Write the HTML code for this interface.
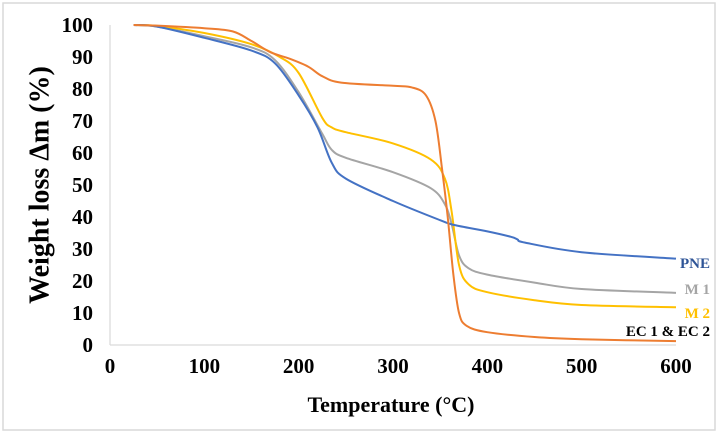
<!DOCTYPE html>
<html><head><meta charset="utf-8"><style>
html,body{margin:0;padding:0;background:#fff;}
svg{display:block;font-family:"Liberation Serif",serif;font-weight:bold;}
</style></head><body>
<svg width="718" height="433" viewBox="0 0 718 433">
<rect x="3" y="3" width="712" height="427" fill="#fff" stroke="#d9d9d9" stroke-width="1.5"/>
<g id="axes"></g>
<g id="series"></g>
<text x="42" y="185" transform="rotate(-90 42 185)" text-anchor="middle" font-size="28" fill="#000" dominant-baseline="middle">Weight loss Δm  (%)</text>
<text x="391" y="412" text-anchor="middle" font-size="22" fill="#000">Temperature (°C)</text>
</svg>
<script>
const xTicks=[0,100,200,300,400,500,600];
const yTicks=[0,10,20,30,40,50,60,70,80,90,100];
const pneT=[25,50,100,150,175,200,220,235,250,300,350,365,400,425,432,440,500,600];
const pneW=[100,99.5,96,92,88,78,68,57,52,45,39,37.5,35.5,33.8,33,32,29,27];
const m1T=[25,50,100,150,175,200,225,235,250,300,340,355,362,370,380,400,450,500,600];
const m1W=[100,99.5,96.5,93,89,79,66,61,58.5,54,49,44,38,28,24,22,19.5,17.5,16.3];
const m2T=[25,50,100,150,180,200,225,235,250,300,340,355,362,370,380,400,450,500,600];
const m2W=[100,99.7,97.5,94,90,85,71,68,66.5,63,58,52,42,25,19,16.5,14,12.5,11.8];
const ecT=[25,50,100,130,150,170,190,210,225,245,300,320,335,345,352,358,364,370,378,400,450,500,600];
const ecW=[100,99.8,99,98,95,91.5,89.5,87,84,82,81,80.5,78,70,55,40,22,10,6,4,2.5,1.8,1.2];
const seriesNames=["PNE","M 1","M 2","EC 1 & EC 2"];
const NS="http://www.w3.org/2000/svg";
const X=t=>110+t*(566/600);
const Y=w=>345-w*3.2;
const ax=document.getElementById('axes'),sg=document.getElementById('series');
function mk(tag,attrs,parent){const e=document.createElementNS(NS,tag);for(const k in attrs)e.setAttribute(k,attrs[k]);parent.appendChild(e);return e;}
let yl=mk('line',{x1:X(0),y1:Y(0),x2:X(0),y2:Y(100),stroke:'#d9d9d9','stroke-width':1.2},ax);


let xl=mk('line',{x1:X(0),y1:Y(0),x2:X(600),y2:Y(0),stroke:'#d9d9d9','stroke-width':1.2},ax);


xTicks.forEach(t=>{const e=mk('text',{x:X(t),y:373,'text-anchor':'middle','font-size':21,fill:'#000'},ax);e.textContent=t;

});
yTicks.forEach(t=>{const e=mk('text',{x:93,y:Y(t)+7,'text-anchor':'end','font-size':21,fill:'#000'},ax);e.textContent=t;

});
function path(T,W){const p=T.map((t,i)=>[X(t),Y(W[i])]);let d='M'+p[0][0]+','+p[0][1];
for(let i=0;i<p.length-1;i++){const p0=p[i-1]||p[i],p1=p[i],p2=p[i+1],p3=p[i+2]||p2;
const c1=[p1[0]+(p2[0]-p0[0])/6,p1[1]+(p2[1]-p0[1])/6],c2=[p2[0]-(p3[0]-p1[0])/6,p2[1]-(p3[1]-p1[1])/6];
d+=' C'+c1+' '+c2+' '+p2;}return d;}
const defs=[[m1T,m1W,'#a5a5a5','m1'],[m2T,m2W,'#ffc000','m2'],[pneT,pneW,'#4472c4','pne'],[ecT,ecW,'#ed7d31','ec']];
defs.forEach(s=>{const e=mk('path',{d:path(s[0],s[1]),fill:'none',stroke:s[2],'stroke-width':2},sg);

});
const labs=[[seriesNames[0],710,268,'#2f5597'],[seriesNames[1],710,294,'#a5a5a5'],[seriesNames[2],710,318,'#ffc000'],[seriesNames[3],710,336,'#000']];
labs.forEach((l,i)=>{const e=mk('text',{x:l[1],y:l[2],'text-anchor':'end','font-size':15,fill:l[3]},sg);e.textContent=l[0];

});
</script>
</body></html>
